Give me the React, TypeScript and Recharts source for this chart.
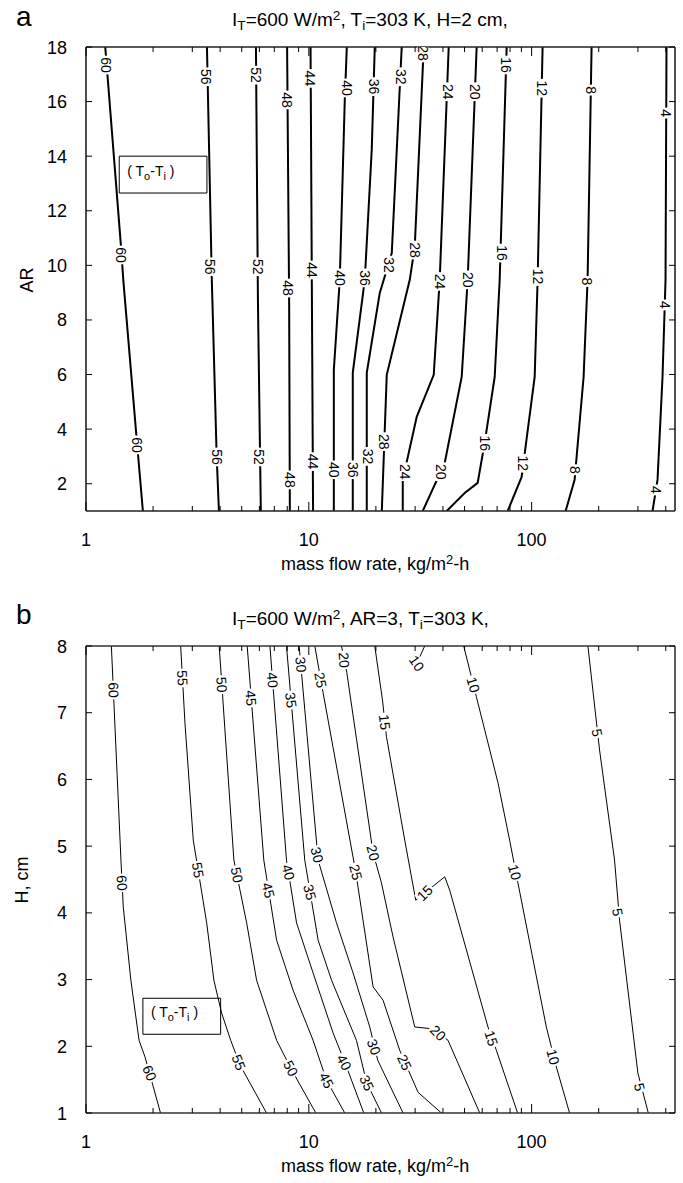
import React from 'react';
import { ComposedChart, Line, Scatter, XAxis, YAxis, ReferenceArea } from 'recharts';

const FONT = '"Liberation Sans", Arial, Helvetica, sans-serif';

type Pt = [number, number];

// shared log x axis
const xTicks = [1, 2, 3, 4, 5, 6, 7, 8, 9, 10, 20, 30, 40, 50, 60, 70, 80, 90, 100, 200, 300, 400];
const xMajor = [1, 10, 100];
const xDomain: [number, number] = [1, 440];

// panel a: AR vs mass flow rate
const arTicks = [2, 4, 6, 8, 10, 12, 14, 16, 18];
const a60: Pt[] = [[1.22, 18], [1.44, 10.56], [1.47, 9.47], [1.69, 3.6], [1.8, 1]];
const a56: Pt[] = [[3.49, 18], [3.67, 9.47], [3.86, 2.98], [3.95, 1]];
const a52: Pt[] = [[5.79, 18], [5.91, 8.73], [6.09, 1]];
const a48: Pt[] = [[7.99, 18], [8.16, 8.73], [8.22, 1]];
const a44: Pt[] = [[10.18, 18], [10.45, 1]];
const a40: Pt[] = [[14.81, 18], [14.5, 16.06], [13.77, 9.47], [12.95, 6.17], [12.95, 1]];
const a36: Pt[] = [[19.77, 18], [19.16, 14.23], [17.83, 9.47], [15.75, 6.06], [15.75, 1]];
const a32: Pt[] = [[26.12, 18], [23.57, 10.45], [20.82, 8.99], [18.2, 6.06], [18.2, 1]];
const a28: Pt[] = [[32.79, 18], [29.88, 10.67], [28.38, 9.47], [22.38, 5.99], [21.26, 1]];
const a24: Pt[] = [[42.45, 18], [38.68, 9.47], [36.36, 5.99], [30.5, 4.45], [26.4, 2.14], [26.4, 1]];
const a20: Pt[] = [[56.66, 18], [51.64, 9.47], [48.54, 5.91], [40.73, 2.76], [32.45, 1]];
const a16: Pt[] = [[77.26, 18], [71.88, 9.47], [68.27, 5.91], [61.53, 3.49], [57.25, 2.03], [50.07, 1.66], [41.58, 1]];
const a12: Pt[] = [[112, 18], [106.4, 9.47], [103.2, 5.91], [90.2, 2.25], [78.06, 1]];
const a8: Pt[] = [[185.8, 18], [178.3, 9.47], [171.1, 5.91], [155.9, 2.14], [142.1, 1]];
const a4: Pt[] = [[403, 18], [399, 9.47], [386.7, 5.91], [367.3, 2.14], [348.8, 1]];
const linesA = [a60, a56, a52, a48, a44, a40, a36, a32, a28, a24, a20, a16, a12, a8, a4];

// [value, x, y]
const labelsA: [number, number, number][] = [
  [60, 1.23, 17.34], [60, 1.435, 10.38], [60, 1.7, 3.42],
  [56, 3.47, 16.91], [56, 3.62, 9.95], [56, 3.88, 2.98],
  [52, 5.79, 16.97], [52, 5.9, 9.95], [52, 5.97, 2.98],
  [48, 7.99, 16.06], [48, 8.1, 9.17], [48, 8.2, 2.14],
  [44, 10.1, 16.85], [44, 10.3, 9.83], [44, 10.4, 2.81],
  [40, 14.8, 16.5], [40, 13.8, 9.54], [40, 12.95, 2.51],
  [36, 19.7, 16.55], [36, 17.9, 9.54], [36, 15.75, 2.51],
  [32, 26.0, 16.91], [32, 22.9, 10.01], [32, 18.4, 3.0],
  [28, 32.5, 17.78], [28, 29.9, 10.56], [28, 21.8, 3.54],
  [24, 42, 16.36], [24, 39.0, 9.41], [24, 27.0, 2.44],
  [20, 56.0, 16.36], [20, 51.8, 9.47], [20, 39.1, 2.44],
  [16, 77.0, 17.34], [16, 73.5, 10.45], [16, 61.5, 3.48],
  [12, 111, 16.49], [12, 106.5, 9.59], [12, 91.8, 2.75],
  [8, 185, 16.42], [8, 178, 9.41], [8, 157, 2.51],
  [4, 402, 15.58], [4, 399, 8.55], [4, 361, 1.77],
];

// panel b: H vs mass flow rate
const hTicks = [1, 2, 3, 4, 5, 6, 7, 8];
const b60: Pt[] = [[1.3, 8], [1.435, 4.79], [1.47, 4.09], [1.59, 2.99], [1.73, 2.09], [1.84, 1.84], [2.16, 1]];
const b55: Pt[] = [[2.66, 8], [2.78, 6.85], [3.03, 5.09], [3.48, 3.85], [3.75, 2.99], [4.06, 2.5], [4.46, 2.09], [4.91, 1.72], [6.46, 1]];
const b50: Pt[] = [[3.96, 8], [4.61, 4.79], [5.26, 3.85], [5.83, 2.99], [7.17, 2.09], [8.3, 1.67], [10.75, 1]];
const b45: Pt[] = [[5.29, 8], [6.28, 4.79], [7.17, 3.59], [8.5, 2.84], [10.45, 2.09], [12.01, 1.49], [14.5, 1]];
const b40: Pt[] = [[6.69, 8], [7.94, 4.79], [8.81, 3.85], [10.45, 3.1], [12.85, 2.2], [14.66, 1.72], [17.65, 1]];
const b35: Pt[] = [[7.94, 8], [9.59, 4.79], [11.01, 3.59], [12.65, 2.99], [16.36, 2.09], [18.2, 1.45], [21.2, 1]];
const b30: Pt[] = [[9.05, 8], [11.01, 4.79], [13.31, 3.85], [15.8, 3.1], [18.77, 2.29], [20.39, 1.79], [26.48, 1]];
const b25: Pt[] = [[10.64, 8], [11.59, 7.3], [16.25, 4.61], [19.43, 2.89], [21.54, 2.69], [25.59, 1.94], [30.92, 1.31], [39.37, 1]];
const b20: Pt[] = [[14.02, 8], [14.81, 7.6], [19.43, 4.9], [21.18, 4.45], [23.88, 3.64], [29.88, 2.29], [36.1, 2.26], [42.14, 2.09], [58.5, 1]];
const b15: Pt[] = [[19.77, 8], [21.41, 7.19], [22.31, 6.64], [26.95, 5.09], [30.19, 4.19], [40.73, 4.54], [42.89, 4.34], [63.68, 2.29], [69.47, 1.94], [86.5, 1]];
const b10s: Pt[] = [[33.13, 8], [31.5, 7.84]];
const b10: Pt[] = [[49.56, 8], [56.49, 7.24], [70.63, 5.95], [79.65, 5.09], [86.79, 4.45], [116.4, 2.29], [129.1, 1.69], [148, 1]];
const b5: Pt[] = [[178.9, 8], [201.8, 6.44], [235.6, 4.79], [248.1, 3.89], [299.8, 1.6], [334, 1]];
const linesB = [b60, b55, b50, b45, b40, b35, b30, b25, b20, b15, b10s, b10, b5];

// [value, x, y, angle]
const labelsB: [number, number, number, number][] = [
  [60, 1.33, 7.34, 87], [60, 1.45, 4.45, 86], [60, 1.93, 1.6, 68],
  [55, 2.71, 7.52, 87], [55, 3.18, 4.64, 80], [55, 4.85, 1.76, 68],
  [50, 4.07, 7.42, 86], [50, 4.76, 4.57, 78], [50, 8.3, 1.67, 62],
  [45, 5.5, 7.22, 85], [45, 6.58, 4.34, 75], [45, 12.01, 1.49, 62],
  [40, 6.87, 7.49, 85], [40, 8.1, 4.61, 75], [40, 14.4, 1.76, 62],
  [35, 8.32, 7.19, 82], [35, 10.1, 4.31, 75], [35, 18.2, 1.45, 65],
  [30, 9.22, 7.72, 85], [30, 10.9, 4.87, 75], [30, 19.6, 1.99, 70],
  [25, 11.3, 7.49, 80], [25, 16.25, 4.61, 75], [25, 26.9, 1.76, 65],
  [20, 14.4, 7.79, 85], [20, 19.43, 4.9, 75], [20, 38, 2.2, 45],
  [15, 21.9, 6.86, 83], [15, 33.13, 4.3, -45], [15, 66, 2.12, 72],
  [10, 30.5, 7.74, 55], [10, 54.7, 7.42, 73], [10, 84, 4.61, 75], [10, 125, 1.84, 75],
  [5, 197, 6.7, 80], [5, 243, 4.01, 80], [5, 305, 1.39, 76],
];

const toRows = (pts: Pt[]) => pts.map(([x, y]) => ({ x, y }));

function BottomTick(props: any) {
  const { x, y, payload } = props;
  const v = payload.value;
  const major = xMajor.includes(v);
  return (
    <g>
      <line x1={x} x2={x} y1={y} y2={y - (major ? 9 : 5)} stroke="#000" strokeWidth={1} />
      {major && (
        <text x={x} y={y + 35} textAnchor="middle" fontSize={18} fontFamily={FONT} fill="#000">
          {v}
        </text>
      )}
    </g>
  );
}

function TopTick(props: any) {
  const { x, y, payload } = props;
  const major = xMajor.includes(payload.value);
  return <line x1={x} x2={x} y1={y} y2={y + (major ? 9 : 5)} stroke="#000" strokeWidth={1} />;
}

function LeftTick(props: any) {
  const { x, y, payload } = props;
  return (
    <g>
      <line x1={x} x2={x + 6} y1={y} y2={y} stroke="#000" strokeWidth={1} />
      <text x={x - 19} y={y + 6.5} textAnchor="end" fontSize={18} fontFamily={FONT} fill="#000">
        {payload.value}
      </text>
    </g>
  );
}

function RightTick(props: any) {
  const { x, y } = props;
  return <line x1={x} x2={x - 6} y1={y} y2={y} stroke="#000" strokeWidth={1} />;
}

const makeLabel = (fontSize: number) => (props: any) => {
  const { cx, cy, payload } = props;
  if (cx == null || cy == null) return <g />;
  const txt = String(payload.v);
  const w = txt.length * fontSize * 0.56 + 3;
  const h = fontSize * 0.78;
  return (
    <g transform={`translate(${cx},${cy}) rotate(${payload.a})`}>
      <rect x={-w / 2} y={-h / 2} width={w} height={h} fill="#fff" />
      <text x={0} y={fontSize * 0.36} textAnchor="middle" fontSize={fontSize} fontFamily={FONT} fill="#000">
        {txt}
      </text>
    </g>
  );
};

function BoxText(props: any) {
  const vb = props.viewBox || {};
  const x = vb.x + 8;
  const y = vb.y + vb.height / 2 + 1;
  return (
    <text x={x} y={y} fontSize={14} fontFamily={FONT} fill="#000">
      {'( T'}
      <tspan dy={4} fontSize={11}>o</tspan>
      <tspan dy={-4}>-T</tspan>
      <tspan dy={4} fontSize={11}>i</tspan>
      <tspan dy={-4}>{' )'}</tspan>
    </text>
  );
}

interface PanelProps {
  lines: Pt[][];
  labels: { x: number; y: number; v: number; a: number }[];
  yDomain: [number, number];
  yTicks: number[];
  marginTop: number;
  bottomHeight: number;
  strokeWidth: number;
  frame: string;
  box: [number, number, number, number];
}

function Panel(p: PanelProps) {
  return (
    <ComposedChart
      width={683}
      height={560}
      margin={{ top: p.marginTop, right: 0, bottom: 0, left: 0 }}
    >
      <XAxis
        dataKey="x"
        type="number"
        scale="log"
        domain={xDomain}
        allowDataOverflow
        ticks={xTicks}
        interval={0}
        tickSize={0}
        tickMargin={0}
        tickLine={false}
        tick={BottomTick}
        height={p.bottomHeight}
        axisLine={{ stroke: p.frame, strokeWidth: 1.6 }}
      />
      <XAxis
        xAxisId="t"
        orientation="top"
        dataKey="x"
        type="number"
        scale="log"
        domain={xDomain}
        allowDataOverflow
        ticks={xTicks}
        interval={0}
        tickSize={0}
        tickMargin={0}
        tickLine={false}
        tick={TopTick}
        height={7}
        axisLine={{ stroke: p.frame, strokeWidth: 1.6 }}
      />
      <YAxis
        type="number"
        domain={p.yDomain}
        allowDataOverflow
        ticks={p.yTicks}
        interval={0}
        tickSize={0}
        tickMargin={0}
        tickLine={false}
        tick={LeftTick}
        width={86}
        axisLine={{ stroke: p.frame, strokeWidth: 1.6 }}
      />
      <YAxis
        yAxisId="r"
        orientation="right"
        type="number"
        domain={p.yDomain}
        allowDataOverflow
        ticks={p.yTicks}
        interval={0}
        tickSize={0}
        tickMargin={0}
        tickLine={false}
        tick={RightTick}
        width={8}
        axisLine={{ stroke: p.frame, strokeWidth: 1.6 }}
      />
      <ReferenceArea
        x1={p.box[0]}
        x2={p.box[1]}
        y1={p.box[2]}
        y2={p.box[3]}
        fill="#fff"
        fillOpacity={1}
        stroke="#000"
        strokeWidth={1}
        label={{ content: BoxText }}
      />
      {p.lines.map((pts, i) => (
        <Line
          key={i}
          data={toRows(pts)}
          dataKey="y"
          type="linear"
          dot={false}
          activeDot={false}
          stroke="#000"
          strokeWidth={p.strokeWidth}
          isAnimationActive={false}
        />
      ))}
      <Scatter data={p.labels} dataKey="y" shape={makeLabel(14)} isAnimationActive={false} />
    </ComposedChart>
  );
}

const txt: React.CSSProperties = { position: 'absolute', fontFamily: FONT, color: '#000', whiteSpace: 'nowrap' };
const sub: React.CSSProperties = { fontSize: '0.72em', verticalAlign: '-0.3em', lineHeight: 0 };
const sup: React.CSSProperties = { fontSize: '0.72em', verticalAlign: '0.45em', lineHeight: 0 };

export default function App() {
  const labA = labelsA.map(([v, x, y]) => ({ v, x, y, a: 90 }));
  const labB = labelsB.map(([v, x, y, a]) => ({ v, x, y, a }));
  return (
    <div style={{ position: 'absolute', left: 0, top: 0, width: 683, height: 1183, background: '#fff', overflow: 'hidden' }}>
      <div style={{ position: 'absolute', left: 0, top: 0 }}>
        <Panel
          lines={linesA}
          labels={labA}
          yDomain={[1, 18]}
          yTicks={arTicks}
          marginTop={40}
          bottomHeight={49}
          strokeWidth={2}
          frame="#222"
          box={[1.41, 3.49, 12.65, 14.0]}
        />
      </div>
      <div style={{ position: 'absolute', left: 0, top: 600 }}>
        <Panel
          lines={linesB}
          labels={labB}
          yDomain={[1, 8]}
          yTicks={hTicks}
          marginTop={39}
          bottomHeight={47}
          strokeWidth={1}
          frame="#333"
          box={[1.8, 4.02, 2.18, 2.72]}
        />
      </div>

      <div style={{ ...txt, left: 16, top: 1, fontSize: 28 }}>a</div>
      <div style={{ ...txt, left: 232, top: 9, fontSize: 19, lineHeight: '22px' }}>
        I<span style={sub}>T</span>=600 W/m<span style={sup}>2</span>, T<span style={sub}>i</span>=303 K, H=2 cm,
      </div>
      <div style={{ ...txt, left: 281, top: 553, fontSize: 18, lineHeight: '22px' }}>
        mass flow rate, kg/m<span style={sup}>2</span>-h
      </div>
      <div style={{ ...txt, left: 14, top: 280, fontSize: 18, lineHeight: '22px', transform: 'translate(0,-50%) rotate(-90deg)', transformOrigin: '50% 50%' }}>
        AR
      </div>

      <div style={{ ...txt, left: 16, top: 599, fontSize: 28 }}>b</div>
      <div style={{ ...txt, left: 232, top: 608, fontSize: 19, lineHeight: '22px' }}>
        I<span style={sub}>T</span>=600 W/m<span style={sup}>2</span>, AR=3, T<span style={sub}>i</span>=303 K,
      </div>
      <div style={{ ...txt, left: 281, top: 1155, fontSize: 18, lineHeight: '22px' }}>
        mass flow rate, kg/m<span style={sup}>2</span>-h
      </div>
      <div style={{ ...txt, left: -2, top: 880, fontSize: 18, lineHeight: '22px', transform: 'translate(0,-50%) rotate(-90deg)', transformOrigin: '50% 50%' }}>
        H, cm
      </div>
    </div>
  );
}
